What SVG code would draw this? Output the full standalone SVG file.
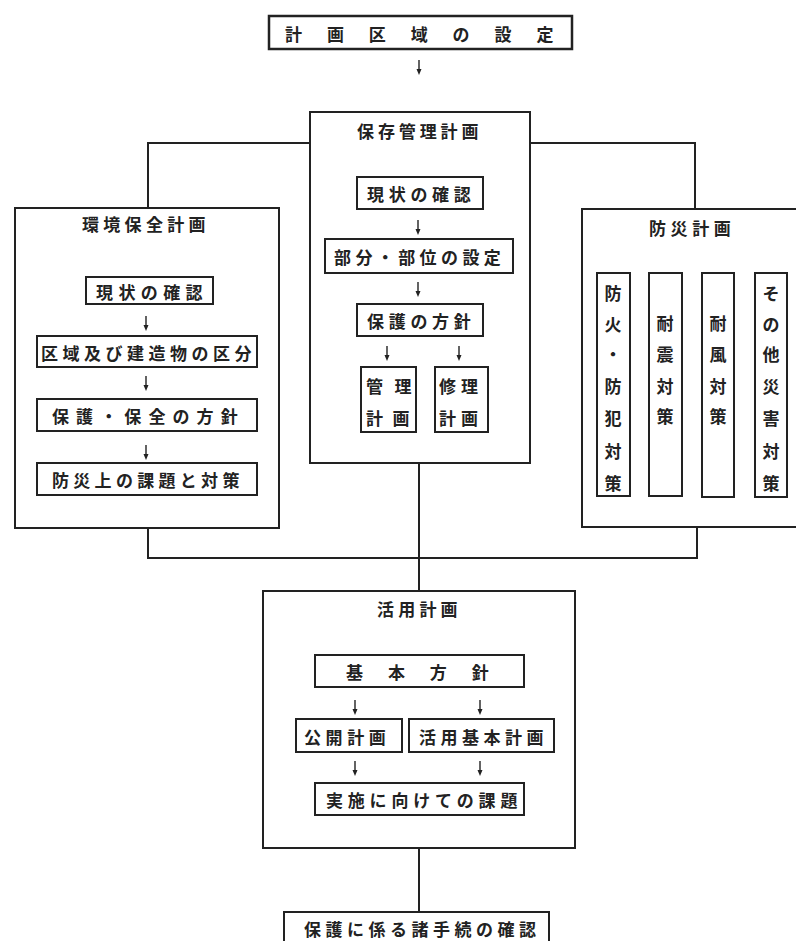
<svg xmlns="http://www.w3.org/2000/svg" width="796" height="941" viewBox="0 0 796 941">
<defs>
<style>
.box{fill:#fff;stroke:#222;stroke-width:2}
.ln{fill:none;stroke:#222;stroke-width:2}
.ar{fill:none;stroke:#222;stroke-width:1.4}
text{font-family:"Noto Sans CJK JP","Noto Sans CJK SC",sans-serif;fill:#222;dominant-baseline:central}
.t{font-size:17px;font-weight:700}
.s{font-size:17px;font-weight:700}
.v{font-size:17px;font-weight:700;text-anchor:middle}
</style>
</defs>
<rect width="796" height="941" fill="#fff"/>

<g id="n-top">
<rect class="box" x="269" y="16" width="303" height="33" style="stroke-width:2.5"/>
<text class="s" x="285" y="33" letter-spacing="24.9">計画区域の設定</text>
</g>

<g id="n-hozon">
<rect class="box" x="310" y="112" width="220" height="351"/>
<text class="t" x="357" y="130" letter-spacing="3.9">保存管理計画</text>
</g>
<g id="n-hozon-1">
<rect class="box" x="357" y="177" width="126" height="32"/>
<text class="s" x="367" y="193" letter-spacing="4.7">現状の確認</text>
</g>
<g id="n-hozon-2">
<rect class="box" x="325" y="239" width="188" height="34"/>
<text class="s" x="334" y="256" letter-spacing="4.4">部分・部位の設定</text>
</g>
<g id="n-hozon-3">
<rect class="box" x="357" y="304" width="126" height="32"/>
<text class="s" x="367" y="320" letter-spacing="4.7">保護の方針</text>
</g>
<g id="n-kanri">
<rect class="box" x="361" y="367" width="55" height="65"/>
<text class="s" x="366" y="385" letter-spacing="11.5">管理</text>
<text class="s" x="366" y="417" letter-spacing="9.5">計画</text>
</g>
<g id="n-shuri">
<rect class="box" x="435" y="367" width="53" height="65"/>
<text class="s" x="439" y="385" letter-spacing="5">修理</text>
<text class="s" x="439" y="417" letter-spacing="5">計画</text>
</g>

<g id="n-kankyo">
<rect class="box" x="15" y="208" width="264" height="320"/>
<text class="t" x="82" y="223" letter-spacing="4.3">環境保全計画</text>
</g>
<g id="n-kankyo-1">
<rect class="box" x="86" y="277" width="127" height="27"/>
<text class="s" x="96" y="291" letter-spacing="5.4">現状の確認</text>
</g>
<g id="n-kankyo-2">
<rect class="box" x="37" y="336" width="220" height="31"/>
<text class="s" x="41" y="352" letter-spacing="4.5">区域及び建造物の区分</text>
</g>
<g id="n-kankyo-3">
<rect class="box" x="37" y="399" width="220" height="32"/>
<text class="s" x="52" y="415" letter-spacing="7.1">保護・保全の方針</text>
</g>
<g id="n-kankyo-4">
<rect class="box" x="37" y="463" width="220" height="32"/>
<text class="s" x="52" y="479" letter-spacing="4.3">防災上の課題と対策</text>
</g>

<g id="n-bousai">
<rect class="box" x="582" y="209" width="220" height="318"/>
<text class="t" x="649" y="227" letter-spacing="4.6">防災計画</text>
</g>
<g id="n-bousai-1">
<rect class="box" x="597" y="273" width="33" height="223"/>
<text class="v" x="613" y="292">防</text><text class="v" x="613" y="323">火</text><text class="v" x="613" y="353">・</text><text class="v" x="613" y="385">防</text><text class="v" x="613" y="417">犯</text><text class="v" x="613" y="450">対</text><text class="v" x="613" y="482">策</text>
</g>
<g id="n-bousai-2">
<rect class="box" x="649" y="273" width="33" height="223"/>
<text class="v" x="665" y="322">耐</text><text class="v" x="665" y="353">震</text><text class="v" x="665" y="385">対</text><text class="v" x="665" y="415">策</text>
</g>
<g id="n-bousai-3">
<rect class="box" x="702" y="273" width="32" height="224"/>
<text class="v" x="718" y="322">耐</text><text class="v" x="718" y="353">風</text><text class="v" x="718" y="385">対</text><text class="v" x="718" y="415">策</text>
</g>
<g id="n-bousai-4">
<rect class="box" x="755" y="273" width="32" height="224"/>
<text class="v" x="771" y="292">そ</text><text class="v" x="771" y="323">の</text><text class="v" x="771" y="353">他</text><text class="v" x="771" y="385">災</text><text class="v" x="771" y="417">害</text><text class="v" x="771" y="450">対</text><text class="v" x="771" y="482">策</text>
</g>

<g id="n-katsuyo">
<rect class="box" x="263" y="591" width="312" height="257"/>
<text class="t" x="377" y="608" letter-spacing="4.2">活用計画</text>
</g>
<g id="n-katsuyo-1">
<rect class="box" x="315" y="655" width="209" height="32"/>
<text class="s" x="346" y="671" letter-spacing="24.9">基本方針</text>
</g>
<g id="n-katsuyo-2">
<rect class="box" x="296" y="719" width="106" height="33"/>
<text class="s" x="304" y="736" letter-spacing="4.6">公開計画</text>
</g>
<g id="n-katsuyo-3">
<rect class="box" x="409" y="719" width="145" height="33"/>
<text class="s" x="419" y="736" letter-spacing="4.5">活用基本計画</text>
</g>
<g id="n-katsuyo-4">
<rect class="box" x="315" y="783" width="209" height="32"/>
<text class="s" x="326" y="799" letter-spacing="4.8">実施に向けての課題</text>
</g>

<g id="n-bottom">
<rect class="box" x="284" y="912" width="265" height="40"/>
<text class="s" x="304" y="928" letter-spacing="4.5">保護に係る諸手続の確認</text>
</g>

<g id="connectors">
<path class="ln" d="M148,208 V143 H310 M530,143 H695 V209"/>
<path class="ln" d="M148,528 V558 H697 V527 M419,463 V591 M419,848 V912"/>
<g class="ar">
<path d="M419,60 V71"/>
<path d="M146,316 V327"/><path d="M146,376 V387"/><path d="M146,445 V456"/>
<path d="M418,220 V231"/><path d="M418,282 V293"/>
<path d="M387,346 V357"/><path d="M459,346 V357"/>
<path d="M355,700 V711"/><path d="M480,700 V711"/>
<path d="M355,761 V772"/><path d="M480,761 V772"/>
</g>
<g fill="#222">
<path d="M416.5,69 L421.5,69 L419,75 Z"/>
<path d="M143.5,325 L148.5,325 L146,331 Z"/><path d="M143.5,385 L148.5,385 L146,391 Z"/><path d="M143.5,454 L148.5,454 L146,460 Z"/>
<path d="M415.5,229 L420.5,229 L418,235 Z"/><path d="M415.5,291 L420.5,291 L418,297 Z"/>
<path d="M384.5,355 L389.5,355 L387,361 Z"/><path d="M456.5,355 L461.5,355 L459,361 Z"/>
<path d="M352.5,709 L357.5,709 L355,715 Z"/><path d="M477.5,709 L482.5,709 L480,715 Z"/>
<path d="M352.5,770 L357.5,770 L355,776 Z"/><path d="M477.5,770 L482.5,770 L480,776 Z"/>
</g>
</g>
</svg>
